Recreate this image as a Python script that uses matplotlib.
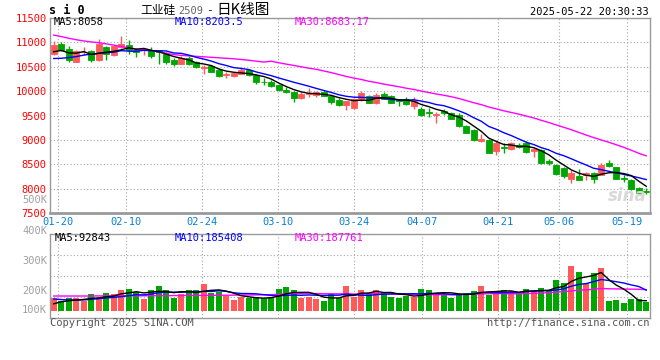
import numpy as np
import pandas as pd
import matplotlib
matplotlib.use('Agg')
import matplotlib.pyplot as plt

# daily K data, 80 sessions (01-17 .. 05-22)
opens = [10761, 10966, 10863, 10604, 10795, 10822, 10645, 10904, 10740, 10910,
         10945, 10850, 10836, 10850, 10836, 10768, 10645, 10563, 10686, 10600,
         10484, 10512, 10443, 10334, 10320, 10361, 10430, 10334, 10198, 10198,
         10129, 10034, 9979, 9870, 9952, 9925, 9979, 9897, 9829, 9725,
         9660, 9835, 9903, 9767, 9944, 9903, 9822, 9835, 9698, 9644,
         9575, 9521, 9589, 9548, 9507, 9288, 9206, 8988, 9002, 8784,
         8866, 8825, 8907, 8948, 8784, 8797, 8565, 8483, 8429, 8210,
         8265, 8292, 8319, 8292, 8524, 8442, 8224, 8183, 8019, 7957]
highs = [11027, 11014, 10925, 10850, 10898, 10850, 11065, 10932, 10945, 11140,
         11050, 10877, 10890, 10904, 10850, 10809, 10672, 10713, 10727, 10615,
         10539, 10539, 10470, 10402, 10402, 10484, 10457, 10348, 10266, 10238,
         10157, 10088, 10006, 9993, 10061, 10006, 10006, 9924, 9856, 9810,
         9855, 10012, 9930, 9958, 9985, 9930, 9849, 9876, 9876, 9671,
         9657, 9575, 9644, 9575, 9548, 9315, 9220, 9125, 9029, 9002,
         8934, 8961, 8934, 8988, 8838, 8825, 8620, 8510, 8456, 8388,
         8415, 8347, 8347, 8524, 8592, 8456, 8292, 8196, 8046, 8019]
lows = [10750, 10830, 10604, 10590, 10740, 10604, 10618, 10645, 10727, 10877,
        10754, 10700, 10740, 10686, 10563, 10563, 10522, 10550, 10536, 10481,
        10361, 10395, 10300, 10279, 10300, 10350, 10320, 10157, 10129, 10088,
        10006, 9965, 9774, 9842, 9883, 9883, 9895, 9733, 9700, 9615,
        9645, 9794, 9760, 9739, 9835, 9750, 9698, 9712, 9644, 9493,
        9480, 9343, 9507, 9425, 9275, 9140, 8990, 8960, 8730, 8702,
        8743, 8797, 8838, 8743, 8647, 8510, 8497, 8290, 8224, 8114,
        8183, 8183, 8128, 8278, 8456, 8196, 8142, 7978, 7896, 7896]
closes = [10945, 10843, 10645, 10822, 10809, 10645, 10966, 10754, 10918, 10960,
          10850, 10809, 10850, 10727, 10809, 10604, 10563, 10672, 10563, 10495,
          10498, 10402, 10320, 10348, 10375, 10430, 10334, 10184, 10184, 10116,
          10020, 9979, 9870, 9952, 9965, 9979, 9911, 9774, 9720, 9795,
          9835, 9958, 9767, 9930, 9849, 9767, 9808, 9739, 9808, 9521,
          9548, 9534, 9548, 9439, 9288, 9152, 9002, 9015, 8742, 8948,
          8838, 8948, 8866, 8756, 8811, 8524, 8538, 8306, 8265, 8319,
          8183, 8319, 8196, 8483, 8470, 8210, 8210, 7991, 7909, 7944]
# volume, thousands
vol_k = [110, 86, 110, 116, 86, 149, 116, 158, 149, 185,
         194, 167, 104, 185, 221, 185, 116, 149, 185, 185,
         239, 158, 167, 131, 95, 122, 110, 125, 110, 119,
         194, 212, 185, 113, 122, 104, 86, 149, 110, 221,
         122, 185, 158, 185, 167, 125, 113, 131, 122, 194,
         185, 158, 152, 113, 149, 158, 176, 221, 140, 167,
         185, 176, 158, 194, 176, 203, 185, 275, 248, 401,
         347, 248, 338, 383, 86, 95, 68, 104, 104, 77]

# moving-average values before enough sessions are on screen
ma5_head = [10810, 10835, 10785, 10780]
ma10_head = [10670, 10675, 10690, 10710, 10740, 10760, 10775, 10790, 10800]
ma30_head = [11150, 11120, 11085, 11055, 11030, 11010, 10995, 10970, 10945, 10915,
             10890, 10865, 10850, 10830, 10805, 10780, 10750, 10735, 10725, 10715,
             10705, 10695, 10685, 10675, 10665, 10650, 10635, 10615, 10598]
vma5_head = [62, 80, 90, 95]
vma10_head = [105, 100, 97, 96, 97, 102, 108, 114, 120]
vma30_head = [132, 132, 132, 132, 132, 132, 133, 133, 133, 133,
              134, 134, 134, 135, 135, 135, 136, 136, 137, 137,
              138, 138, 139, 139, 140, 141, 141, 142, 143]

tick_idx = [1, 10, 20, 30, 40, 49, 59, 67, 76]
tick_lbl = ['01-20', '02-10', '02-24', '03-10', '03-24', '04-07', '04-21', '05-06', '05-19']
price_ticks = [7500, 8000, 8500, 9000, 9500, 10000, 10500, 11000, 11500]

RED = '#ff5a5a'
GREEN = '#00a600'
GRID = '#a8a8a8'
BORDER = '#9a9a9a'
MONO = 'DejaVu Sans Mono'
CJK = ['Noto Sans CJK SC', 'DejaVu Sans']


def with_head(series, n, head):
    m = pd.Series(series, dtype=float).rolling(n).mean()
    m.iloc[:len(head)] = head
    return m.values


ma5 = with_head(closes, 5, ma5_head)
ma10 = with_head(closes, 10, ma10_head)
ma30 = with_head(closes, 30, ma30_head)
vma5 = with_head(vol_k, 5, vma5_head)
vma10 = with_head(vol_k, 10, vma10_head)
vma30 = with_head(vol_k, 30, vma30_head)

n = len(closes)
x = np.arange(n)
o, h, l, c = map(np.array, (opens, highs, lows, closes))
col = np.where(c >= o, RED, GREEN)
tick_pos = np.array(tick_idx) * n / (n - 1) - 0.5

W, H = 660, 360
fig = plt.figure(figsize=(6.6, 3.6), dpi=100)


def box(left, top, right, bottom):
    return [left / W, 1 - bottom / H, (right - left) / W, (bottom - top) / H]


#---------------- price panel ----------------
ax = fig.add_axes(box(50, 18, 650, 213.3))
ax.vlines(x, l, h, colors=col, linewidth=1, zorder=2)
ax.bar(x, np.maximum(np.abs(c - o), 1), bottom=np.minimum(o, c), width=0.76,
       color=col, edgecolor=col, linewidth=0.6, zorder=2)
ax.plot(x, ma30, color='#ff00ff', lw=1, zorder=3)
ax.plot(x, ma10, color='#0000ff', lw=1, zorder=3)
ax.plot(x, ma5, color='black', lw=1, zorder=3)
ax.set_xlim(-0.5, n - 0.5)
ax.set_ylim(7500, 11500)
ax.set_yticks(price_ticks)
ax.set_yticklabels([str(v) for v in price_ticks], color='#ff0000', family=MONO, fontsize=7.5)
ax.set_xticks(tick_pos)
ax.set_xticklabels(tick_lbl, color='#0a7fd6', family=MONO, fontsize=7.5)
ax.tick_params(length=0, pad=2.5)
ax.grid(True, linestyle=(0, (1, 2)), color=GRID, linewidth=0.8, zorder=0)
ax.set_axisbelow(True)
for s in ax.spines.values():
    s.set_color(BORDER)
    s.set_linewidth(1)
ax.spines['bottom'].set_linewidth(2)

ax.text(0.006, 0.978, 'MA5:8058', transform=ax.transAxes, color='black',
        family=MONO, fontsize=7.5, va='center')
ax.text(0.207, 0.978, 'MA10:8203.5', transform=ax.transAxes, color='#0000ff',
        family=MONO, fontsize=7.5, va='center')
ax.text(0.408, 0.978, 'MA30:8683.17', transform=ax.transAxes, color='#ff00ff',
        family=MONO, fontsize=7.5, va='center')
ax.text(0.995, 0.04, 'sina', transform=ax.transAxes, color='#d9d9d9', fontsize=12,
        style='italic', fontweight='bold', ha='right', va='bottom')

#---------------- volume panel ----------------
axv = fig.add_axes(box(50, 234.3, 650, 317.7))
vlo, vhi = -62.9, 686.6
axv.bar(x, vol_k, width=0.8, color=col, linewidth=0, zorder=2)
axv.plot(x, vma30, color='#ff00ff', lw=1, zorder=3)
axv.plot(x, vma10, color='#0000ff', lw=1, zorder=3)
axv.plot(x, vma5, color='black', lw=1, zorder=3)
axv.set_xlim(-0.5, n - 0.5)
axv.set_ylim(vlo, vhi)
axv.set_yticks(np.linspace(vlo, vhi, 5)[1:-1])
axv.set_yticklabels([])
axv.set_xticks(tick_pos)
axv.set_xticklabels([])
axv.tick_params(length=0)
axv.grid(True, linestyle=(0, (1, 2)), color=GRID, linewidth=0.8, zorder=0)
axv.set_axisbelow(True)
for s in axv.spines.values():
    s.set_color(BORDER)
    s.set_linewidth(1)

axv.text(0.008, 0.955, 'MA5:92843', transform=axv.transAxes, color='black',
         family=MONO, fontsize=7.5, va='center')
axv.text(0.208, 0.955, 'MA10:185408', transform=axv.transAxes, color='#0000ff',
         family=MONO, fontsize=7.5, va='center')
axv.text(0.408, 0.955, 'MA30:187761', transform=axv.transAxes, color='#ff00ff',
         family=MONO, fontsize=7.5, va='center')

# volume scale labels as sina places them
for lbl, ypx in [('500K', 200), ('400K', 231), ('300K', 261), ('200K', 290.7), ('100K', 310)]:
    fig.text(47 / W, 1 - ypx / H, lbl, ha='right', va='center', color='#a0a0a0',
             family=MONO, fontsize=7.5)

#---------------- header / footer ----------------
fig.text(49 / W, 1 - 11 / H, 's i 0', family=MONO, fontweight='bold', fontsize=8.5, va='center')
fig.text(140 / W, 1 - 10 / H, '工业硅', family=CJK, fontsize=8.5, va='center')
fig.text(178 / W, 1 - 10.5 / H, '2509', family=MONO, fontsize=7.5, color='#666666', va='center')
fig.text(206 / W, 1 - 10 / H, '-', family=MONO, fontsize=8, va='center')
fig.text(216 / W, 1 - 10 / H, '日K线图', family=CJK, fontsize=10.5, va='center')
fig.text(649 / W, 1 - 12 / H, '2025-05-22 20:30:33', family=MONO, fontsize=7.5,
         ha='right', va='center')
fig.text(50 / W, 1 - 323 / H, 'Copyright 2025 SINA.COM', family=MONO, fontsize=7.5,
         color='#555555', va='center')
fig.text(650 / W, 1 - 323 / H, 'http://finance.sina.com.cn', family=MONO, fontsize=7.5,
         color='#555555', ha='right', va='center')

fig.savefig('out.png', dpi=100, facecolor='white')
